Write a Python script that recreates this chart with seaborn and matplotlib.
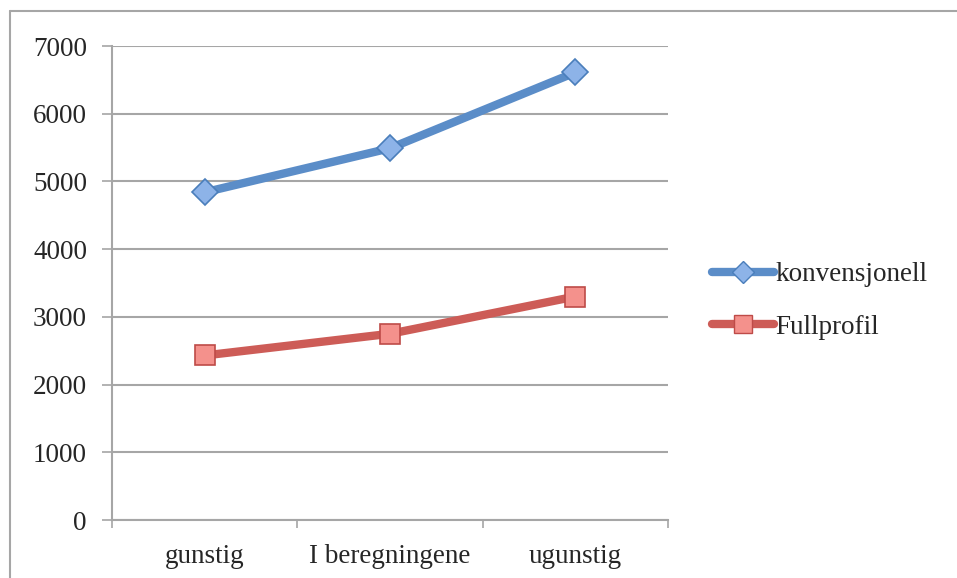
import matplotlib
matplotlib.use("Agg")
import matplotlib.pyplot as plt
from matplotlib.lines import Line2D
import seaborn as sns
import pandas as pd

categories = ["gunstig", "I beregningene", "ugunstig"]
konvensjonell = [4840, 5490, 6610]
fullprofil = [2430, 2750, 3300]
yticks = [0, 1000, 2000, 3000, 4000, 5000, 6000, 7000]

sns.set_style("white")
plt.rcParams["font.family"] = ["Liberation Serif", "DejaVu Serif"]

FS = 19.5

fig = plt.figure(figsize=(9.57, 5.78), dpi=100)
ax = fig.add_axes([112 / 957, 1 - 520 / 578, (668 - 112) / 957, (520 - 46) / 578])

pos = list(range(len(categories)))
series = [
    ("konvensjonell", konvensjonell, "#5B8DC8", "D", "#8DB3E8", "#4A7EBB", 13),
    ("Fullprofil", fullprofil, "#CD5C57", "s", "#F4918C", "#BE4B48", 15),
]

handles = []
for name, vals, lc, mk, mfc, mec, ms in series:
    df = pd.DataFrame({"pos": pos, "value": vals})
    sns.lineplot(data=df, x="pos", y="value", ax=ax, color=lc, lw=6,
                 marker=mk, markersize=ms, markerfacecolor=mfc,
                 markeredgecolor=mec, markeredgewidth=1.2,
                 solid_capstyle="round", legend=False, zorder=3)
    handles.append(Line2D([0], [0], color=lc, lw=6, marker=mk,
                          markersize=ms * 0.85, markerfacecolor=mfc,
                          markeredgecolor=mec, solid_capstyle="round",
                          label=name))

ax.set_xlim(-0.5, 2.5)
ax.set_ylim(0, 7000)
ax.set_yticks(yticks)
ax.set_yticklabels([str(v) for v in yticks])
ax.set_xticks(pos)
ax.set_xticklabels(categories)
ax.set_xticks([-0.5, 0.5, 1.5, 2.5], minor=True)
ax.set_xlabel("")
ax.set_ylabel("")

ax.yaxis.grid(True, color="#A6A6A6", lw=1.5)
ax.xaxis.grid(False)
ax.set_axisbelow(True)
for s in ["top", "right"]:
    ax.spines[s].set_visible(False)
for s in ["left", "bottom"]:
    ax.spines[s].set_color("#A6A6A6")
    ax.spines[s].set_linewidth(1.5)

ax.tick_params(axis="y", which="major", length=7, width=1.2, color="#A6A6A6",
               labelsize=FS, pad=11, left=True)
ax.tick_params(axis="x", which="major", length=0, labelsize=FS, pad=17)
ax.tick_params(axis="x", which="minor", length=6, width=1.2, color="#A6A6A6",
               bottom=True)

fig.legend(handles=handles, loc="center left",
           bbox_to_anchor=(712 / 957, 1 - 301 / 578), frameon=False,
           fontsize=FS, handlelength=2.3, handletextpad=0.05,
           labelspacing=1.0, borderaxespad=0, borderpad=0)

# frame around the chart area
fig.add_artist(Line2D([10 / 957, 10 / 957], [0, 1 - 11 / 578],
                      transform=fig.transFigure, color="#A6A6A6", lw=1.5))
fig.add_artist(Line2D([10 / 957, 1], [1 - 11 / 578, 1 - 11 / 578],
                      transform=fig.transFigure, color="#A6A6A6", lw=1.5))

fig.savefig("out.png", dpi=100)
